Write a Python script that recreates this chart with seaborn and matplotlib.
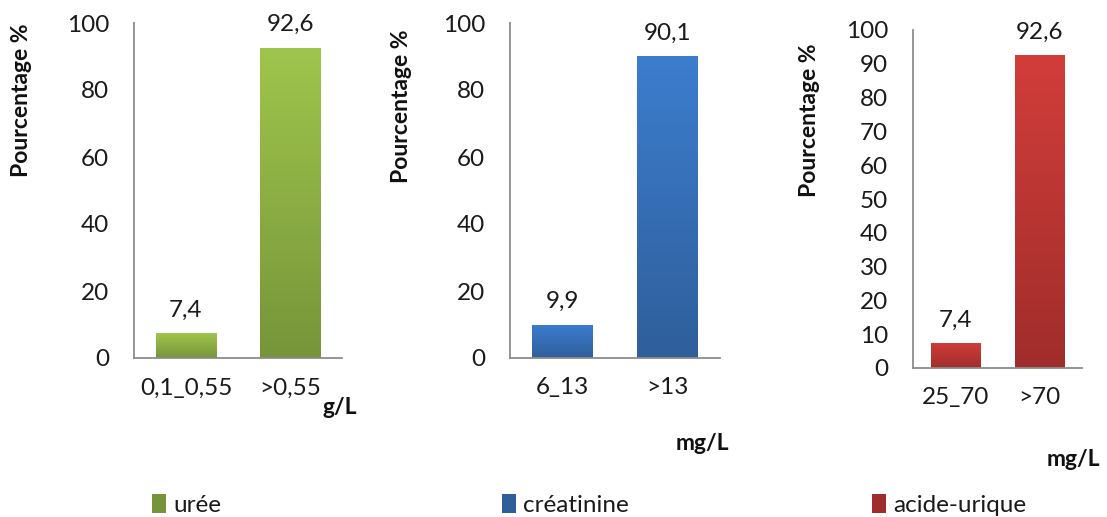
import matplotlib
matplotlib.use("Agg")
import matplotlib.pyplot as plt
import numpy as np
import seaborn as sns
from matplotlib.colors import LinearSegmentedColormap
from matplotlib.patches import Patch

# Data
urea_cats = ["0,1_0,55", ">0,55"]
urea_vals = [7.4, 92.6]
crea_cats = ["6_13", ">13"]
crea_vals = [9.9, 90.1]
acid_cats = ["25_70", ">70"]
acid_vals = [7.4, 92.6]
series_names = ["urée", "créatinine", "acide-urique"]
units = ["g/L", "mg/L", "mg/L"]

sns.set_theme(style="white")
plt.rcParams["font.family"] = ["Lato", "DejaVu Sans"]

# (top colour, bottom colour) of each series' vertical gradient
colors = [("#a0c54c", "#76953a"), ("#3c7dce", "#2f5f9b"), ("#d23d3a", "#a02d2b")]

fig = plt.figure(figsize=(11.07, 5.17), dpi=100)
W, H = 1107, 517
FS = 17.5


def px_axes(x0, x1, ytop, ybot):
    return fig.add_axes([x0 / W, 1 - ybot / H, (x1 - x0) / W, (ybot - ytop) / H])


axes = [
    px_axes(134, 342, 23, 358),
    px_axes(510, 720, 23, 358),
    px_axes(913, 1082, 30, 368),
]
data = [(urea_cats, urea_vals), (crea_cats, crea_vals), (acid_cats, acid_vals)]
yticks = [np.arange(0, 101, 20), np.arange(0, 101, 20), np.arange(0, 101, 10)]

for ax, (cats, vals), (ctop, cbot), yt in zip(axes, data, colors, yticks):
    sns.barplot(x=cats, y=vals, color=cbot, width=0.58, ax=ax, saturation=1)
    cmap = LinearSegmentedColormap.from_list("g", [cbot, ctop])
    grad = np.linspace(0, 1, 256).reshape(-1, 1)
    for p in list(ax.patches):
        bx, by = p.get_x(), p.get_y()
        bw, bh = p.get_width(), p.get_height()
        im = ax.imshow(grad, extent=[bx, bx + bw, by, by + bh], origin="lower",
                       aspect="auto", cmap=cmap, zorder=p.get_zorder() + 0.1)
        im.set_clip_path(p)
    labels = [f"{v:.1f}".replace(".", ",") for v in vals]
    ax.bar_label(ax.containers[0], labels=labels, padding=9, fontsize=FS,
                 color="#1a1a1a")
    ax.set_xlim(-0.5, 1.5)
    ax.set_ylim(0, 100)
    ax.set_yticks(yt)
    ax.tick_params(axis="y", length=0, pad=18, labelsize=FS, labelcolor="#1a1a1a")
    ax.tick_params(axis="x", length=0, pad=14, labelsize=FS, labelcolor="#1a1a1a")
    for s in ["top", "right"]:
        ax.spines[s].set_visible(False)
    for s in ["left", "bottom"]:
        ax.spines[s].set_color("#8c8c8c")
        ax.spines[s].set_linewidth(1.3)
    ax.set_xlabel("")
    ax.set_ylabel("")

# Y axis titles
for (x, y) in [(22, 100), (402, 106), (810, 120)]:
    fig.text(x / W, 1 - y / H, "Pourcentage %", rotation=90, ha="center",
             va="center", fontsize=16.5, fontweight="bold", color="#111111")

# Unit labels
for (x, y), u in zip([(340, 408), (702, 443), (1073, 460)], units):
    fig.text(x / W, 1 - y / H, u, ha="center", va="center", fontsize=16.5,
             fontweight="bold", color="#111111")

# Legend entries under each panel
for (x, name, (ctop, cbot)) in zip([152, 502, 872], series_names, colors):
    handle = Patch(facecolor=cbot, edgecolor="none")
    fig.legend(handles=[handle], labels=[name], loc="center left",
               bbox_to_anchor=(x / W, 1 - 505 / H), frameon=False,
               fontsize=FS, handlelength=0.58, handleheight=0.8,
               handletextpad=0.3, borderaxespad=0, borderpad=0,
               labelcolor="#1a1a1a")

fig.savefig("out.png", dpi=100)
